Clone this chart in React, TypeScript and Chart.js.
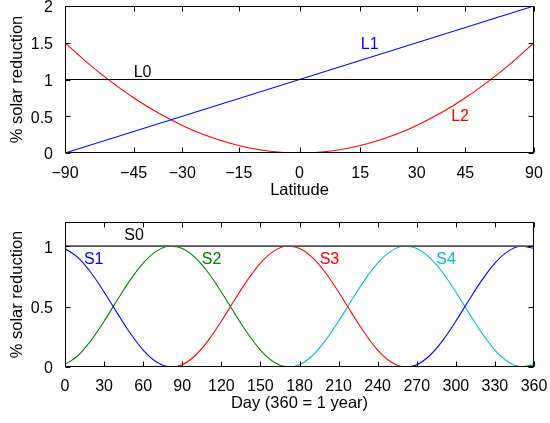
import React, { useEffect, useRef } from "react";
import { Chart, registerables } from "chart.js";

Chart.register(...registerables);

// ---------- Top panel data (x axis is area-weighted: sin(latitude)) ----------
const latTicks = [-90, -45, -30, -15, 0, 15, 30, 45, 90];
const latL0 = [-90, 90];
const valL0 = [1, 1];
const latL1 = [-90, 90];
const valL1 = [0, 2];
const latL2 = [-90, -64, -53, -44, -37, -30, -24, -17, -12, -6, 0, 6, 12, 17, 24, 30, 37, 44, 53, 64, 90];
const valL2 = [1.5, 1.212, 0.957, 0.724, 0.543, 0.375, 0.248, 0.128, 0.065, 0.016, 0, 0.016, 0.065, 0.128, 0.248, 0.375, 0.543, 0.724, 0.957, 1.212, 1.5];

// ---------- Bottom panel data ----------
const days = [0, 10, 20, 30, 40, 50, 60, 70, 80, 90, 100, 110, 120, 130, 140, 150, 160, 170, 180, 190, 200, 210, 220, 230, 240, 250, 260, 270, 280, 290, 300, 310, 320, 330, 340, 350, 360];
const valS0 = [1, 1, 1, 1, 1, 1, 1, 1, 1, 1, 1, 1, 1, 1, 1, 1, 1, 1, 1, 1, 1, 1, 1, 1, 1, 1, 1, 1, 1, 1, 1, 1, 1, 1, 1, 1, 1];
const valS1 = [0.981, 0.905, 0.78, 0.621, 0.448, 0.281, 0.14, 0.043, 0.001, 0, 0, 0, 0, 0, 0, 0, 0, 0, 0, 0, 0, 0, 0, 0, 0, 0, 0, 0.019, 0.095, 0.22, 0.379, 0.552, 0.719, 0.86, 0.957, 0.999, 0.981];
const valS2 = [0.019, 0.095, 0.22, 0.379, 0.552, 0.719, 0.86, 0.957, 0.999, 0.981, 0.905, 0.78, 0.621, 0.448, 0.281, 0.14, 0.043, 0.001, 0, 0, 0, 0, 0, 0, 0, 0, 0, 0, 0, 0, 0, 0, 0, 0, 0, 0, 0.019];
const valS3 = [0, 0, 0, 0, 0, 0, 0, 0, 0, 0.019, 0.095, 0.22, 0.379, 0.552, 0.719, 0.86, 0.957, 0.999, 0.981, 0.905, 0.78, 0.621, 0.448, 0.281, 0.14, 0.043, 0.001, 0, 0, 0, 0, 0, 0, 0, 0, 0, 0];
const valS4 = [0, 0, 0, 0, 0, 0, 0, 0, 0, 0, 0, 0, 0, 0, 0, 0, 0, 0, 0.019, 0.095, 0.22, 0.379, 0.552, 0.719, 0.86, 0.957, 0.999, 0.981, 0.905, 0.78, 0.621, 0.448, 0.281, 0.14, 0.043, 0.001, 0];
const dayTicks = [0, 30, 60, 90, 120, 150, 180, 210, 240, 270, 300, 330, 360];
const botYTicks = [0, 0.5, 1];
const topYTicks = [0, 0.5, 1, 1.5, 2];

// ---------- In-plot labels ----------
const topLabels = [
  { text: "L0", lat: -42, y: 1.09, color: "#000000" },
  { text: "L1", lat: 17.4, y: 1.48, color: "#0000ff" },
  { text: "L2", lat: 43.2, y: 0.5, color: "#ff0000" },
];
const bottomLabels = [
  { text: "S0", x: 53, y: 1.09, color: "#000000" },
  { text: "S1", x: 22, y: 0.89, color: "#0000ff" },
  { text: "S2", x: 112.5, y: 0.89, color: "#008000" },
  { text: "S3", x: 203, y: 0.89, color: "#ff0000" },
  { text: "S4", x: 292.5, y: 0.89, color: "#00bfbf" },
];

const FONT = "'Liberation Sans', Arial, Helvetica, sans-serif";
const FS = 16;
const FT = 16.5;

const sinLat = (l: number) => Math.sin((l * Math.PI) / 180);
const toXY = (xs: number[], ys: number[], tx = (v: number) => v) => xs.map((x, i) => ({ x: tx(x), y: ys[i] }));
const fmt = (v: number) => String(v).replace("-", "\u2212");

const framePlugin = {
  id: "frame",
  afterDatasetsDraw(chart: any, _args: any, opts: any) {
    const { ctx, chartArea: a, scales } = chart;
    const L = Math.round(a.left) + 0.5;
    const R = Math.round(a.right) - 0.5;
    const T = Math.round(a.top) + 0.5;
    const B = Math.round(a.bottom) - 0.5;
    ctx.save();
    ctx.strokeStyle = "#000";
    ctx.lineWidth = 1;
    ctx.strokeRect(L, T, R - L, B - T);
    const tl = 5;
    ctx.beginPath();
    for (const t of scales.x.ticks) {
      const px = Math.round(scales.x.getPixelForValue(t.value)) + 0.5;
      ctx.moveTo(px, B);
      ctx.lineTo(px, B - tl);
      ctx.moveTo(px, T);
      ctx.lineTo(px, T + tl);
    }
    for (const t of scales.y.ticks) {
      const py = Math.round(scales.y.getPixelForValue(t.value)) + 0.5;
      ctx.moveTo(L, py);
      ctx.lineTo(L + tl, py);
      ctx.moveTo(R, py);
      ctx.lineTo(R - tl, py);
    }
    ctx.stroke();
    ctx.font = `${FS}px ${FONT}`;
    ctx.textAlign = "center";
    ctx.textBaseline = "middle";
    const tx = opts.tx || ((v: number) => v);
    for (const lb of opts.labels || []) {
      ctx.fillStyle = lb.color;
      const xv = lb.lat !== undefined ? tx(lb.lat) : lb.x;
      ctx.fillText(lb.text, scales.x.getPixelForValue(xv), scales.y.getPixelForValue(lb.y));
    }
    ctx.restore();
  },
};

function makeLine(label: string, data: any[], color: string, width = 1.1) {
  return {
    label,
    data,
    borderColor: color,
    backgroundColor: color,
    borderWidth: width,
    pointRadius: 0,
    fill: false,
    cubicInterpolationMode: "monotone" as const,
  };
}

function baseScales(
  xRange: [number, number],
  xTickVals: number[],
  xTickLabels: string[],
  yRange: [number, number],
  yTickVals: number[],
  xHeight: number,
  xTitle: string,
  tickPadX: number
) {
  return {
    x: {
      type: "linear",
      min: xRange[0],
      max: xRange[1],
      afterBuildTicks: (axis: any) => {
        axis.ticks = xTickVals.map((v) => ({ value: v }));
      },
      grid: { display: false },
      border: { display: false },
      ticks: {
        color: "#000",
        font: { family: FONT, size: FS },
        padding: tickPadX,
        maxRotation: 0,
        autoSkip: false,
        callback: (_v: number, i: number) => xTickLabels[i],
      },
      title: {
        display: true,
        text: xTitle,
        color: "#000",
        font: { family: FONT, size: FT },
        padding: { top: 0, bottom: 0 },
      },
      afterFit: (s: any) => {
        s.height = xHeight;
        s.paddingLeft = 0;
        s.paddingRight = 0;
      },
    },
    y: {
      type: "linear",
      min: yRange[0],
      max: yRange[1],
      afterBuildTicks: (axis: any) => {
        axis.ticks = yTickVals.map((v) => ({ value: v }));
      },
      grid: { display: false },
      border: { display: false },
      ticks: {
        color: "#000",
        font: { family: FONT, size: FS },
        padding: 4,
        labelOffset: 2,
        callback: (v: number) => fmt(v),
      },
      title: {
        display: true,
        text: "% solar reduction",
        color: "#000",
        font: { family: FONT, size: FT },
        padding: { top: 8, bottom: 0 },
      },
      afterFit: (s: any) => {
        s.width = 65;
        s.paddingTop = 0;
        s.paddingBottom = 0;
      },
    },
  };
}

export default function App() {
  const topRef = useRef<HTMLCanvasElement>(null);
  const botRef = useRef<HTMLCanvasElement>(null);

  useEffect(() => {
    const common = {
      responsive: false,
      animation: false as const,
      plugins: { legend: { display: false }, tooltip: { enabled: false } },
    };

    const top = new Chart(topRef.current!, {
      type: "line",
      data: {
        datasets: [
          makeLine("L0", toXY(latL0, valL0, sinLat), "#000000"),
          makeLine("L1", toXY(latL1, valL1, sinLat), "#0000ff"),
          makeLine("L2", toXY(latL2, valL2, sinLat), "#ff0000"),
        ],
      },
      options: {
        ...common,
        layout: { padding: { top: 6, right: 16, bottom: 223, left: 0 } },
        plugins: { ...common.plugins, frame: { labels: topLabels, tx: sinLat } } as any,
        scales: baseScales(
          [-1, 1],
          latTicks.map(sinLat),
          latTicks.map(fmt),
          [0, 2],
          topYTicks,
          47,
          "Latitude",
          3
        ) as any,
      },
      plugins: [framePlugin],
    });

    const bot = new Chart(botRef.current!, {
      type: "line",
      data: {
        datasets: [
          makeLine("S0", toXY(days, valS0), "#555555", 1.6),
          makeLine("S1", toXY(days, valS1), "#0000ff"),
          makeLine("S2", toXY(days, valS2), "#008000"),
          makeLine("S3", toXY(days, valS3), "#ff0000"),
          makeLine("S4", toXY(days, valS4), "#00bfbf"),
        ],
      },
      options: {
        ...common,
        layout: { padding: { top: 222, right: 16, bottom: 10, left: 0 } },
        plugins: { ...common.plugins, frame: { labels: bottomLabels } } as any,
        scales: baseScales(
          [0, 360],
          dayTicks,
          dayTicks.map(fmt),
          [0, 1.2],
          botYTicks,
          46,
          "Day (360 = 1 year)",
          2
        ) as any,
      },
      plugins: [framePlugin],
    });

    return () => {
      top.destroy();
      bot.destroy();
    };
  }, []);

  const cs: React.CSSProperties = { position: "absolute", left: 0, top: 0, width: 550, height: 423 };
  return (
    <div style={{ position: "fixed", left: 0, top: 0, width: 550, height: 423, background: "#fff" }}>
      <canvas ref={topRef} width={550} height={423} style={cs} />
      <canvas ref={botRef} width={550} height={423} style={cs} />
    </div>
  );
}
